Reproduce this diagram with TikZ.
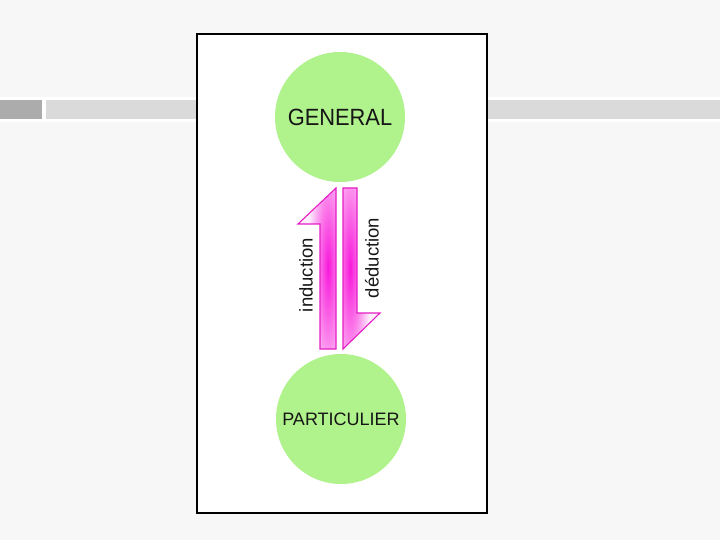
\documentclass[tikz,border=0pt]{standalone}
\usepackage{fontspec}
\setmainfont{Liberation Sans}
\usetikzlibrary{positioning}
\definecolor{bgcol}{RGB}{247,247,247}
\definecolor{barcol}{RGB}{218,218,218}
\definecolor{blockcol}{RGB}{172,172,172}
\definecolor{blobcol}{RGB}{176,242,140}
\definecolor{edgecol}{RGB}{228,30,196}
\definecolor{pinkcol}{RGB}{248,24,218}
\definecolor{inkcol}{RGB}{22,22,22}

\begin{document}
\begin{tikzpicture}[
  x=1pt, y=-1pt,
  blob/.style={circle, fill=blobcol, minimum size=130pt, inner sep=0pt,
               text=inkcol},
  halfarrow/.style={draw=edgecol, line width=1.1pt, line join=miter,
    path picture={
      \fill[pinkcol!8] (path picture bounding box.south west)
        rectangle (path picture bounding box.north east);
      \shade[inner color=pinkcol, outer color=pinkcol!8] (#1) ellipse (20 and 140);
    }},
  lbl/.style={rotate=90, inner sep=0pt, text=inkcol,
              font=\fontsize{18.5}{20}\selectfont},
  frame/.style={draw=black, line width=1.3pt, fill=white}
]
\useasboundingbox (0,0) rectangle (720,540);

%% Slide background and title bar
\fill[bgcol] (0,0) rectangle (720,540);
\fill[white] (0,97) rectangle (720,122);
\fill[blockcol] (0,100) rectangle (42,119);
\fill[barcol] (46,100) rectangle (720,119);

%% Frame
\draw[frame] (197,34) rectangle (487,513);

%% Circles
\node[blob, font=\fontsize{23.5}{26}\selectfont] (general) at (340,117)
  {\scalebox{0.93}[1]{GENERAL}\hspace{8pt}};
\node[blob, font=\fontsize{18}{20}\selectfont] (particulier) at (341,419)
  {PARTICULIER\hspace{4pt}};

%% Half arrows
\draw[halfarrow={328,268}] (336,349) -- (336,188) -- (298,224) -- (320,224)
  -- (320,349) -- cycle;
\draw[halfarrow={350,268}] (343,188) -- (357,188) -- (357,313) -- (380,313)
  -- (343,349) -- cycle;

%% Labels
\node[lbl] (induction) at (306,275) {induction};
\node[lbl] (deduction) at (372,258) {déduction};

\end{tikzpicture}
\end{document}
